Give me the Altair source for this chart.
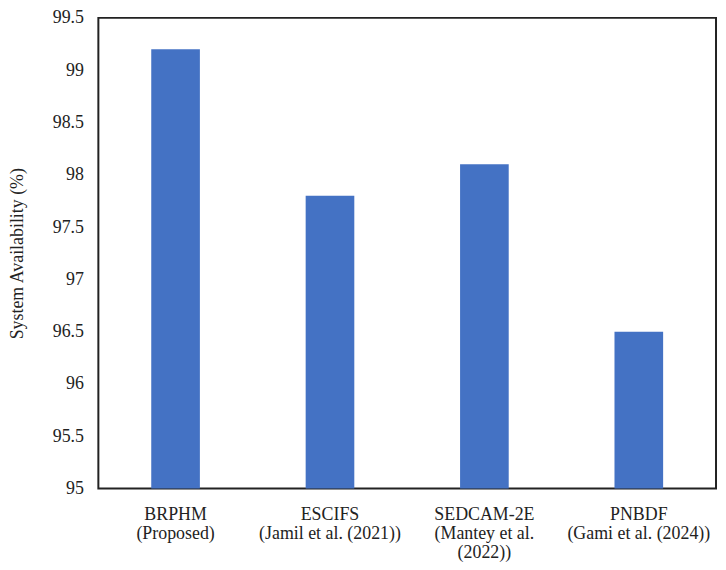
import altair as alt
import pandas as pd

methods = ["BRPHM\n(Proposed)", "ESCIFS\n(Jamil et al. (2021))",
           "SEDCAM-2E\n(Mantey et al.\n(2022))", "PNBDF\n(Gami et al. (2024))"]
availability = [99.2, 97.8, 98.1, 96.5]
y_ticks = [95, 95.5, 96, 96.5, 97, 97.5, 98, 98.5, 99, 99.5]
y_base = 95

df = pd.DataFrame({"method": methods, "value": availability})

FONT = "'Times New Roman', 'Liberation Serif', serif"

chart = alt.Chart(df).mark_bar(color="#4472C4").encode(
    x=alt.X("method:N", sort=methods,
            scale=alt.Scale(paddingInner=0.685, paddingOuter=0.3425),
            axis=alt.Axis(title=None, labelAngle=0, labelExpr="split(datum.label, '\\n')",
                          labelLineHeight=19, labelPadding=17, ticks=False, domain=False,
                          labelFont=FONT, labelFontSize=18, labelColor="#222",
                          labelBaseline="top")),
    y=alt.Y("value:Q", scale=alt.Scale(domain=[95, 99.5], nice=False, zero=False),
            axis=alt.Axis(title="System Availability (%)", values=y_ticks, grid=False,
                          ticks=False, domain=False, labelPadding=15, format="~g",
                          labelFont=FONT, labelFontSize=18, labelColor="#222",
                          titleFont=FONT, titleFontSize=18, titleFontWeight="normal",
                          titleColor="#222", titlePadding=26)),
    y2=alt.datum(y_base),
).properties(
    width=622, height=474,
    autosize=alt.AutoSizeParams(type="none"),
    padding={"left": 91, "top": 8, "right": 2, "bottom": 72},
).configure_view(stroke="#222", strokeWidth=2)

chart.save("out.html", embed_options={"renderer": "svg", "actions": False})
